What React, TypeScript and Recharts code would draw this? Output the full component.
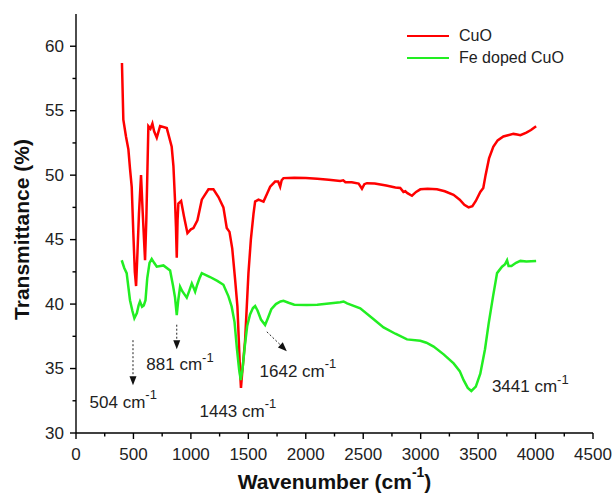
import { LineChart, Line, XAxis, YAxis, Legend, ReferenceLine, ReferenceDot } from 'recharts';

const FONT = '"Liberation Sans", Arial, sans-serif';

// CuO spectrum
const cuoWavenumber = [
  400, 412, 435, 456, 470, 485, 499, 512, 523, 535, 548, 566, 580, 601, 612, 630, 648, 665, 680, 703,
  732, 790, 833, 848, 862, 870, 877, 884, 891, 915, 940, 970, 1000, 1022, 1057, 1095, 1153, 1196, 1240, 1283,
  1312, 1336, 1360, 1385, 1405, 1429, 1436, 1445, 1472, 1501, 1522, 1545, 1559, 1588, 1632, 1660, 1690, 1733, 1760, 1777,
  1790, 1806, 1900, 2000, 2100, 2200, 2300, 2326, 2345, 2400, 2460, 2489, 2510, 2532, 2600, 2700, 2780, 2822, 2850, 2866,
  2885, 2924, 2960, 2997, 3060, 3142, 3210, 3286, 3340, 3380, 3417, 3450, 3480, 3519, 3545, 3565, 3595, 3632, 3670, 3720,
  3760, 3807, 3840, 3868, 3920, 3960, 4005,
];
const cuoTransmittance = [
  58.7, 54.3, 53.0, 52.0, 50.5, 49.1, 45.5, 42.5, 41.4, 44.0, 47.0, 50.0, 47.2, 43.4, 46.5, 53.8, 53.6, 54.0, 53.4, 52.9,
  53.8, 53.65, 52.2, 50.7, 48.0, 46.0, 43.6, 46.5, 47.8, 48.0, 46.8, 45.5, 45.8, 45.9, 46.5, 48.1, 48.9, 48.9, 48.3, 47.5,
  45.9, 45.6, 44.3, 41.9, 39.8, 34.6, 33.5, 34.5, 37.2, 42.4, 45.0, 47.0, 47.95, 48.1, 47.95, 48.5, 49.1, 49.5, 49.5, 49.1,
  49.6, 49.77, 49.8, 49.77, 49.72, 49.65, 49.55, 49.6, 49.45, 49.45, 49.35, 48.95, 49.3, 49.38, 49.35, 49.2, 49.05, 49.0, 48.7, 48.75,
  48.6, 48.4, 48.7, 48.9, 48.95, 48.9, 48.75, 48.47, 48.1, 47.7, 47.5, 47.6, 48.0, 48.7, 49.0, 50.0, 51.3, 52.2, 52.7, 53.0,
  53.1, 53.2, 53.15, 53.1, 53.3, 53.5, 53.8,
];

// Fe doped CuO spectrum
const feWavenumber = [
  398, 420, 441, 470, 490, 508, 530, 545, 557, 575, 590, 605, 620, 640, 659, 680, 703, 761, 819, 845,
  862, 877, 890, 906, 925, 964, 985, 1008, 1022, 1037, 1055, 1075, 1095, 1167, 1230, 1283, 1327, 1355, 1380, 1400,
  1420, 1434, 1450, 1470, 1490, 1515, 1540, 1559, 1580, 1610, 1646, 1670, 1700, 1740, 1780, 1806, 1850, 1900, 2009, 2100,
  2200, 2300, 2329, 2360, 2474, 2580, 2677, 2780, 2881, 2997, 3050, 3113, 3200, 3287, 3340, 3374, 3410, 3441, 3480, 3519,
  3560, 3592, 3630, 3665, 3708, 3735, 3752, 3765, 3790, 3830, 3868, 3920, 4005,
];
const feTransmittance = [
  43.4, 42.8, 42.4, 40.3, 39.5, 38.9, 39.3, 39.9, 40.2, 39.8, 39.9, 40.3, 42.0, 43.2, 43.5, 43.2, 42.9, 43.0, 42.6, 41.4,
  40.5, 39.15, 40.3, 41.35, 41.0, 40.5, 41.0, 41.6, 41.3, 40.96, 41.5, 42.0, 42.4, 42.1, 41.8, 41.5, 40.6, 39.8, 38.6, 36.6,
  34.9, 34.1, 35.0, 36.8, 38.3, 39.2, 39.7, 39.85, 39.5, 38.8, 38.37, 38.9, 39.6, 40.0, 40.2, 40.25, 40.1, 39.95, 39.92, 39.95,
  40.05, 40.15, 40.2, 40.05, 39.67, 38.9, 38.19, 37.7, 37.26, 37.15, 37.0, 36.7, 36.1, 35.4, 34.8, 34.1, 33.5, 33.26, 33.6, 34.6,
  36.5, 38.5, 40.6, 42.4, 42.9, 43.1, 43.4, 42.95, 42.95, 43.2, 43.35, 43.3, 43.35,
];

const xTicks = [0, 250, 500, 750, 1000, 1250, 1500, 1750, 2000, 2250, 2500, 2750, 3000, 3250, 3500, 3750, 4000, 4250, 4500];
const yTicks = [30, 32.5, 35, 37.5, 40, 42.5, 45, 47.5, 50, 52.5, 55, 57.5, 60];

// peak annotations: arrow [x1, y1, x2, y2] and label position
const arrows = [
  [496, 37.2, 496, 33.7],
  [877, 38.4, 877, 36.5],
  [1661, 37.85, 1835, 36.35],
];
const peakLabels = [
  { text: '504 cm', x: 118, y: 32.4 },
  { text: '881 cm', x: 612, y: 35.3 },
  { text: '1443 cm', x: 1075, y: 31.7 },
  { text: '1642 cm', x: 1598, y: 34.8 },
  { text: '3441 cm', x: 3620, y: 33.6 },
];

const cuoData = cuoWavenumber.map((w, i) => ({ w, t: cuoTransmittance[i] }));
const feData = feWavenumber.map((w, i) => ({ w, t: feTransmittance[i] }));

const series = [
  { name: 'CuO', color: '#ff0000', data: cuoData },
  { name: 'Fe doped CuO', color: '#22ee22', data: feData },
];

const XTick = ({ x, y, payload }: any) => {
  const major = payload.value % 500 === 0;
  return (
    <g>
      <line x1={x} y1={y} x2={x} y2={y + (major ? 6 : 3.5)} stroke="#000" strokeWidth={1.4} />
      {major && (
        <text x={x} y={y + 21} textAnchor="middle" dominantBaseline="central" fontSize={17} fill="#222" fontFamily={FONT}>
          {payload.value}
        </text>
      )}
    </g>
  );
};

const YTick = ({ x, y, payload }: any) => {
  const major = payload.value % 5 === 0;
  return (
    <g>
      <line x1={x} y1={y} x2={x - (major ? 6 : 3.5)} y2={y} stroke="#000" strokeWidth={1.4} />
      {major && (
        <text x={x - 12} y={y} textAnchor="end" dominantBaseline="central" fontSize={17} fill="#222" fontFamily={FONT}>
          {payload.value}
        </text>
      )}
    </g>
  );
};

const XTitle = ({ viewBox }: any) => {
  const cx = viewBox.x + viewBox.width / 2;
  return (
    <text x={cx} y={viewBox.y + 48} textAnchor="middle" dominantBaseline="central" fontSize={21} fontWeight="bold" fill="#111" fontFamily={FONT}>
      Wavenumber (cm<tspan dy={-9} fontSize={14}>-1</tspan><tspan dy={9}>)</tspan>
    </text>
  );
};

const YTitle = ({ viewBox }: any) => {
  const cx = 21;
  const cy = viewBox.y + viewBox.height / 2 + 6;
  return (
    <text x={cx} y={cy} transform={`rotate(-90 ${cx} ${cy})`} textAnchor="middle" dominantBaseline="central" fontSize={21} fontWeight="bold" fill="#111" fontFamily={FONT}>
      Transmittance (%)
    </text>
  );
};

const Arrow = ({ x1, y1, x2, y2 }: any) => {
  const ang = Math.atan2(y2 - y1, x2 - x1);
  const len = 9;
  const hw = 3.5;
  const bx = x2 - len * Math.cos(ang);
  const by = y2 - len * Math.sin(ang);
  const px = -Math.sin(ang) * hw;
  const py = Math.cos(ang) * hw;
  return (
    <g>
      <line x1={x1} y1={y1} x2={bx} y2={by} stroke="#222" strokeWidth={1} strokeDasharray="2 2" />
      <polygon points={`${x2},${y2} ${bx + px},${by + py} ${bx - px},${by - py}`} fill="#111" />
    </g>
  );
};

const PeakText = (text: string) => ({ cx, cy }: any) => (
  <text x={cx} y={cy} dominantBaseline="central" fontSize={17} fill="#222" fontFamily={FONT}>
    {text}
    <tspan dy={-8} fontSize={13}>-1</tspan>
  </text>
);

const LegendBox = () => (
  <div style={{ fontFamily: FONT, fontSize: 16, color: '#222' }}>
    {series.map((s) => (
      <div key={s.name} style={{ display: 'flex', alignItems: 'center', height: 22 }}>
        <span style={{ width: 42, borderTop: `2.5px solid ${s.color}`, marginRight: 10 }} />
        {s.name}
      </div>
    ))}
  </div>
);

export default function App() {
  return (
    <div style={{ position: 'absolute', left: 0, top: 0, background: '#fff' }}>
      <LineChart width={612} height={493} margin={{ top: 14, right: 19, bottom: 0, left: 0 }}>
        <XAxis
          type="number"
          dataKey="w"
          domain={[0, 4500]}
          ticks={xTicks}
          interval={0}
          height={60}
          tickSize={0}
          tickMargin={0}
          tickLine={false}
          tick={<XTick />}
          axisLine={{ stroke: '#000', strokeWidth: 1.4 }}
          label={{ content: <XTitle /> }}
        />
        <YAxis
          type="number"
          dataKey="t"
          domain={[30, 62.5]}
          ticks={yTicks}
          interval={0}
          width={76}
          tickSize={0}
          tickMargin={0}
          tickLine={false}
          tick={<YTick />}
          axisLine={{ stroke: '#000', strokeWidth: 1.4 }}
          label={{ content: <YTitle /> }}
        />
        {series.map((s) => (
          <Line
            key={s.name}
            data={s.data}
            dataKey="t"
            name={s.name}
            type="linear"
            stroke={s.color}
            strokeWidth={2.5}
            dot={false}
            isAnimationActive={false}
          />
        ))}
        {arrows.map((a, i) => (
          <ReferenceLine
            key={'a' + i}
            segment={[{ x: a[0], y: a[1] }, { x: a[2], y: a[3] }]}
            shape={<Arrow />}
          />
        ))}
        {peakLabels.map((p) => (
          <ReferenceDot key={p.text} x={p.x} y={p.y} r={0} shape={PeakText(p.text)} />
        ))}
        <Legend
          layout="horizontal"
          verticalAlign="middle"
          align="center"
          content={<LegendBox />}
          wrapperStyle={{ position: 'absolute', top: 25, left: 407, width: 'auto' }}
        />
      </LineChart>
    </div>
  );
}
